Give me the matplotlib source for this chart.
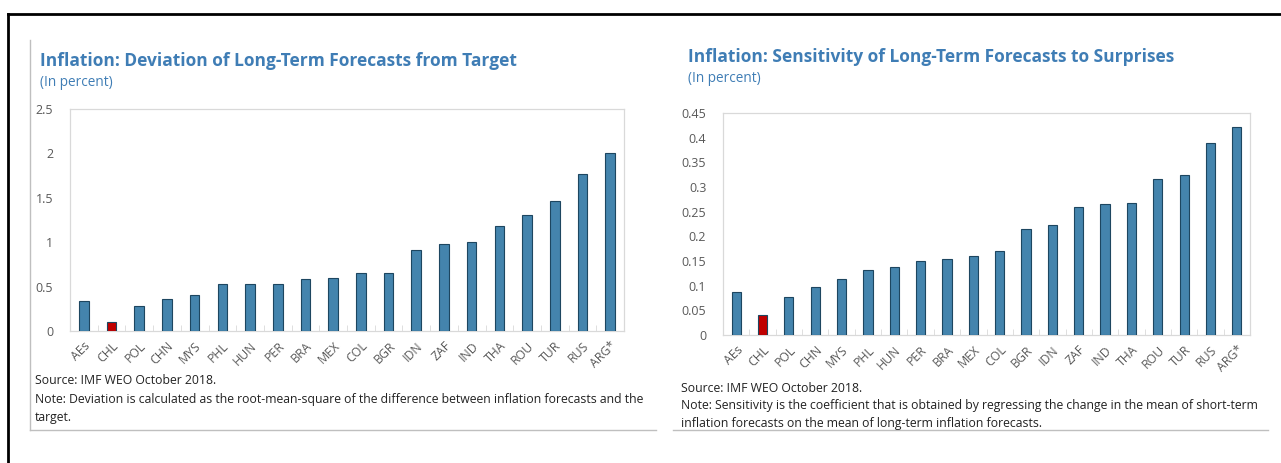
import numpy as np, matplotlib
matplotlib.use("Agg"); import matplotlib.pyplot as plt
from matplotlib.lines import Line2D

countries = ["AEs", "CHL", "POL", "CHN", "MYS", "PHL", "HUN", "PER", "BRA", "MEX",
             "COL", "BGR", "IDN", "ZAF", "IND", "THA", "ROU", "TUR", "RUS", "ARG*"]
deviation = [0.34, 0.10, 0.28, 0.36, 0.40, 0.53, 0.53, 0.53, 0.59, 0.60,
             0.65, 0.65, 0.91, 0.98, 1.00, 1.18, 1.31, 1.46, 1.77, 2.01]
sensitivity = [0.088, 0.041, 0.077, 0.098, 0.113, 0.132, 0.138, 0.150, 0.155, 0.161,
               0.171, 0.215, 0.222, 0.259, 0.265, 0.267, 0.317, 0.324, 0.389, 0.421]
left_ticks = [0, 0.5, 1, 1.5, 2, 2.5]
left_ticklabels = ["0", "0.5", "1", "1.5", "2", "2.5"]
right_ticks = [0, 0.05, 0.1, 0.15, 0.2, 0.25, 0.3, 0.35, 0.4, 0.45]
right_ticklabels = ["0", "0.05", "0.1", "0.15", "0.2", "0.25", "0.3", "0.35", "0.4", "0.45"]

W, H = 1281, 463
plt.rcParams['font.family'] = ['Open Sans', 'DejaVu Sans']
fig = plt.figure(figsize=(W/100, H/100), dpi=100)
fig.patch.set_facecolor("white")

def fx(x): return x/W
def fy(y): return 1 - y/H

blue = "#4484ad"; edge = "#1d4660"; red = "#c00000"; title_c = "#3f7db5"
grey = "#595959"; frame = "#d9d9d9"

def panel(box, vals, ticks, labels, ymax, title, tpos, note, npos):
    x0, y0, x1, y1 = box
    ax = fig.add_axes([fx(x0), fy(y1), (x1-x0)/W, (y1-y0)/H])
    x = np.arange(len(countries))
    cols = [red if c == "CHL" else blue for c in countries]
    ax.bar(x, vals, width=0.35, color=cols, edgecolor=edge, linewidth=0.8, zorder=3)
    ax.set_xlim(-0.5, len(countries)-0.5); ax.set_ylim(0, ymax)
    ax.set_yticks(ticks); ax.set_yticklabels(labels, fontsize=9, color=grey)
    ax.tick_params(axis="y", length=0, pad=12)
    ax.set_xticks(x); ax.set_xticklabels(countries, rotation=45, ha="right", va="top",
                                         rotation_mode="anchor", fontsize=8.8, color=grey)
    ax.tick_params(axis="x", length=0, pad=6)
    ax.set_xticks(np.arange(len(countries)+1)-0.5, minor=True)
    ax.tick_params(axis="x", which="minor", direction="in", length=4, color=frame)
    for s in ax.spines.values(): s.set_color(frame); s.set_linewidth(0.9)
    tx, ty = tpos
    fig.text(fx(tx), fy(ty), title, fontsize=12.5, fontweight="bold", color=title_c, va="center")
    fig.text(fx(tx), fy(ty+22), "(In percent)", fontsize=9.8, color=title_c, va="center")
    nx, ny = npos
    for i, line in enumerate(note):
        fig.text(fx(nx), fy(ny + i*18), line, fontsize=8.8, color="#222222", va="center")

panel((70, 109, 624, 331), deviation, left_ticks, left_ticklabels, 2.5,
      "Inflation: Deviation of Long-Term Forecasts from Target", (40, 61),
      ["Source: IMF WEO October 2018.",
       "Note: Deviation is calculated as the root-mean-square of the difference between inflation forecasts and the",
       "target."], (35, 381))
panel((723, 113, 1250, 335), sensitivity, right_ticks, right_ticklabels, 0.45,
      "Inflation: Sensitivity of Long-Term Forecasts to Surprises", (688, 57),
      ["Source: IMF WEO October 2018.",
       "Note: Sensitivity is the coefficient that is obtained by regressing the change in the mean of short-term",
       "inflation forecasts on the mean of long-term inflation forecasts."], (681, 388))

# outer black frame and grey panel rules
fig.add_artist(Line2D([fx(8), fx(1281)], [fy(14), fy(14)], color="black", lw=2))
fig.add_artist(Line2D([fx(8), fx(8)], [fy(14), fy(463)], color="black", lw=2))
fig.add_artist(Line2D([fx(30), fx(30)], [fy(40), fy(430)], color="#bfbfbf", lw=1))
fig.add_artist(Line2D([fx(30), fx(656)], [fy(430), fy(430)], color="#bfbfbf", lw=1))
fig.add_artist(Line2D([fx(673), fx(1268)], [fy(430), fy(430)], color="#bfbfbf", lw=1))

fig.savefig("out.png", dpi=100)
